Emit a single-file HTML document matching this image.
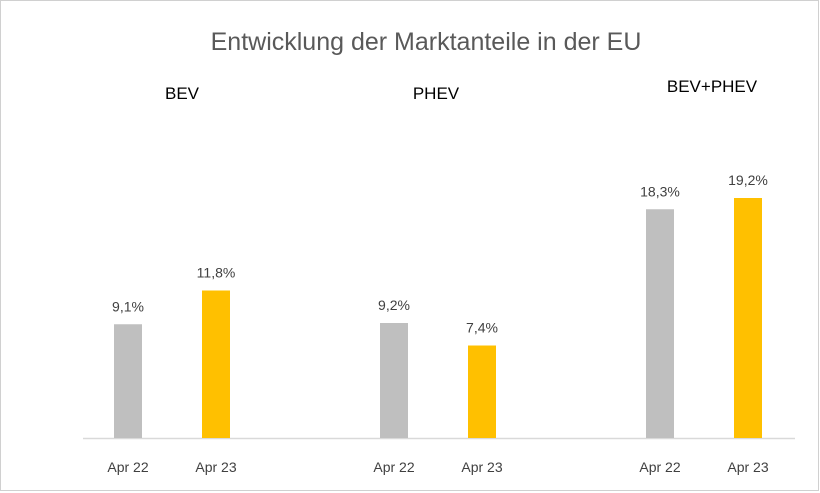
<!DOCTYPE html>
<html><head><meta charset="utf-8"><style>
body{margin:0;background:#fff}
#c{position:relative;width:820px;height:493px;overflow:hidden}
svg{position:absolute;left:0;top:0}
</style></head><body>
<div id="c">
<svg id="s" width="820" height="493" font-family="'Liberation Sans', sans-serif">
<rect x="0.5" y="0.5" width="818" height="490" fill="#fff" stroke="#d0d0d0"/>
<text x="426" y="50" text-anchor="middle" font-size="25" fill="#595959">Entwicklung der Marktanteile in der EU</text>
<line x1="83" y1="438.5" x2="795" y2="438.5" stroke="#d9d9d9" stroke-width="1.5"/>
</svg></div>
<script>
const groups=["BEV","PHEV","BEV+PHEV"];
const categories=["Apr 22","Apr 23"];
const values2022=[9.1,9.2,18.3];
const values2023=[11.8,7.4,19.2];
const labels2022=["9,1%","9,2%","18,3%"];
const labels2023=["11,8%","7,4%","19,2%"];
const groupTitleY=[99,99,92];
const groupTitleX=[182,436,712];
const svg=document.getElementById('s');
const NS='http://www.w3.org/2000/svg';
const base=438, pxPer=12.5;
function y(v){return base-v*pxPer;}
function gx(g,i){return 128+g*266+i*88;}
function mk(tag,attrs,txt){const e=document.createElementNS(NS,tag);for(const k in attrs)e.setAttribute(k,attrs[k]);if(txt)e.textContent=txt;svg.appendChild(e);return e;}
const series=[values2022,values2023],lbls=[labels2022,labels2023],cols=["#bfbfbf","#ffc000"];
groups.forEach((g,gi)=>{
  const t=mk('text',{x:groupTitleX[gi],y:groupTitleY[gi],'text-anchor':'middle','font-size':17,fill:'#000'},g);
  
  
  for(let i=0;i<2;i++){
    const v=series[i][gi],cx=gx(gi,i);
    const r=mk('rect',{x:cx-14,y:y(v),width:28,height:base-y(v),fill:cols[i]});
    
    
    const l=mk('text',{x:cx,y:y(v)-13,'text-anchor':'middle','font-size':14,fill:'#404040'},lbls[i][gi]);
    
    
    const c=mk('text',{x:cx,y:472,'text-anchor':'middle','font-size':14,fill:'#404040'},categories[i]);
    
    
  }
});
</script>
</body></html>
